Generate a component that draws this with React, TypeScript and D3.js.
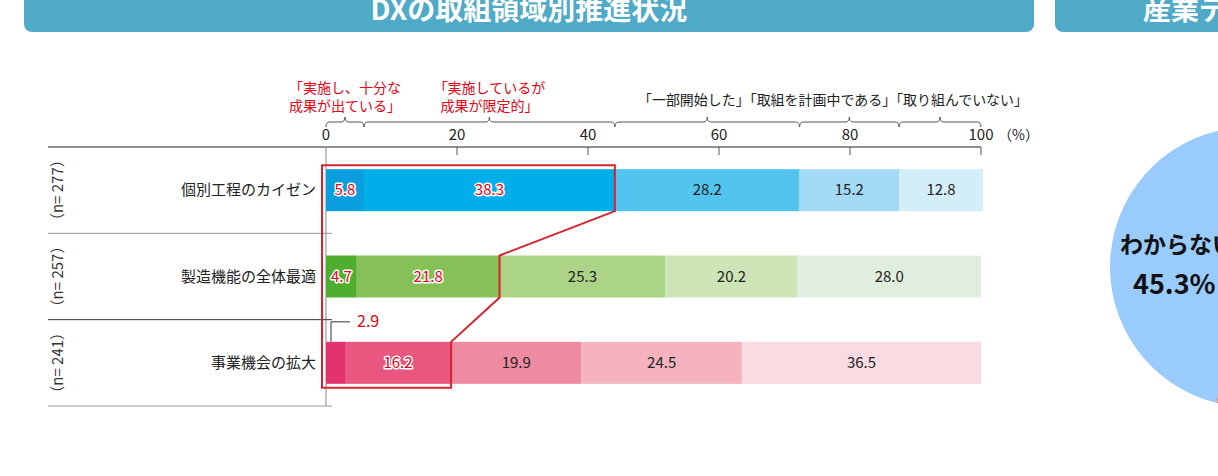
import React from 'react';
import * as d3 from 'd3';

// data
const categories = ['個別工程のカイゼン', '製造機能の全体最適', '事業機会の拡大'];
const sampleSizes = [277, 257, 241];
const statusKeys = ['十分な成果', '限定的', '一部開始', '計画中', '未着手'];
const kaizenValues = [5.8, 38.3, 28.2, 15.2, 12.8];
const optimizationValues = [4.7, 21.8, 25.3, 20.2, 28.0];
const expansionValues = [2.9, 16.2, 19.9, 24.5, 36.5];
const xTicks = [0, 20, 40, 60, 80, 100];
const pieLabels = ['わからない', 'その他'];
const pieValues = [45.3, 54.7];

const rowColors = [
  ['#0a9edf', '#00aeea', '#52c4ef', '#a3daf5', '#d3edf9'],
  ['#4fae2f', '#85c156', '#acd486', '#cde4b6', '#e0eedd'],
  ['#e3336f', '#e9567f', '#ee8ba1', '#f4b3bf', '#fadbe1'],
];

const RED = '#e60012';
const FONT = '"Noto Sans CJK JP", "Noto Sans", sans-serif';

const W = 1218;
const H = 476;

const App: React.FC = () => {
  const x = d3.scaleLinear().domain([0, 100]).range([326, 981]);
  const y = d3.scaleBand<string>().domain(categories).range([147, 406]);
  const barH = 42;

  const rows = [kaizenValues, optimizationValues, expansionValues];
  const table = categories.map((c, i) => {
    const o: any = { cat: c };
    statusKeys.forEach((k, j) => (o[k] = rows[i][j]));
    return o;
  });
  const stacked = d3.stack<any>().keys(statusKeys)(table);

  const segs = categories.map((c, i) =>
    stacked.map((s, j) => ({ cat: c, row: i, col: j, x0: s[i][0], x1: s[i][1], v: rows[i][j] }))
  );

  const barTop = (c: string) => (y(c) as number) + (y.bandwidth() - barH) / 2;

  // red outline around the first two segments of every row
  const pad = 4;
  const ends = segs.map((r) => r[1].x1);
  const outline: [number, number][] = [];
  outline.push([x(0) - pad, barTop(categories[0]) - pad]);
  categories.forEach((c, i) => {
    outline.push([x(ends[i]), i === 0 ? barTop(c) - pad : barTop(c)]);
    outline.push([x(ends[i]), barTop(c) + barH + (i === categories.length - 1 ? pad : 0)]);
  });
  outline.push([x(0) - pad, barTop(categories[2]) + barH + pad]);
  const outlinePath = d3.line()(outline) + 'Z';

  // braces over the first row's segments
  const braceY = 122;
  const brace = (a: number, b: number) => {
    const m = (a + b) / 2;
    const r = 4;
    return `M${a},${braceY + 5} Q${a},${braceY} ${a + r},${braceY} L${m - r},${braceY} Q${m},${braceY} ${m},${braceY - 5} Q${m},${braceY} ${m + r},${braceY} L${b - r},${braceY} Q${b},${braceY} ${b},${braceY + 5}`;
  };

  // pie on the right (mostly off-page)
  const pie = d3
    .pie<number>()
    .sort(null)
    .startAngle((194 * Math.PI) / 180)
    .endAngle((194 * Math.PI) / 180 + 2 * Math.PI)(pieValues);
  const arc = d3.arc<d3.PieArcDatum<number>>().innerRadius(0).outerRadius(140);
  const pieColors = ['#99cbfc', '#f08a8a'];

  const redLabel = {
    fill: RED,
    stroke: '#fff',
    strokeWidth: 3,
    paintOrder: 'stroke' as const,
    strokeLinejoin: 'round' as const,
  };

  return (
    <svg
      width={W}
      height={H}
      style={{ position: 'absolute', left: 0, top: 0, background: '#fff' }}
      fontFamily={FONT}
    >
      {/* header bars */}
      <rect x={24} y={-12} width={1010} height={44} rx={8} fill="#4eaac7" />
      <text x={529} y={20} textAnchor="middle" fontSize={28} fontWeight="bold" fill="#fff">
        DXの取組領域別推進状況
      </text>
      <rect x={1055} y={-12} width={220} height={44} rx={8} fill="#4eaac7" />
      <text x={1143} y={20} fontSize={28} fontWeight="bold" fill="#fff">
        産業データ
      </text>

      {/* pie */}
      <g transform="translate(1250,267)">
        {pie.map((p, i) => (
          <path key={i} d={arc(p) as string} fill={pieColors[i]} />
        ))}
      </g>
      <text x={1120} y={253} fontSize={23} fontWeight="bold" fill="#111">
        {pieLabels[0]}
      </text>
      <text x={1133} y={294} fontSize={27} fontWeight="bold" fill="#111">
        {pieValues[0].toFixed(1)}%
      </text>

      {/* legend labels with braces */}
      {segs[0].map((s, j) => (
        <path key={j} d={brace(x(s.x0), x(Math.min(s.x1, 100)))} fill="none" stroke="#555" strokeWidth={1} />
      ))}
      <g fontSize={14} fill={RED} textAnchor="middle">
        <text x={x((segs[0][0].x0 + segs[0][0].x1) / 2)} y={93}>「実施し、十分な</text>
        <text x={x((segs[0][0].x0 + segs[0][0].x1) / 2)} y={111}>成果が出ている」</text>
        <text x={x((segs[0][1].x0 + segs[0][1].x1) / 2)} y={93}>「実施しているが</text>
        <text x={x((segs[0][1].x0 + segs[0][1].x1) / 2)} y={111}>成果が限定的」</text>
      </g>
      <text x={638} y={105} fontSize={14} fill="#222" textLength={390} lengthAdjust="spacingAndGlyphs">
        「一部開始した」「取組を計画中である」「取り組んでいない」
      </text>

      {/* axis */}
      <line x1={48} x2={x(100)} y1={147} y2={147} stroke="#222" strokeWidth={1} />
      {xTicks.map((t) => (
        <g key={t}>
          {t > 0 && <line x1={x(t)} x2={x(t)} y1={147} y2={155} stroke="#555" />}
          <text x={x(t)} y={140} textAnchor="middle" fontSize={15} fill="#222">
            {t}
          </text>
        </g>
      ))}
      <text x={x(100) + 17} y={140} fontSize={14} fill="#222">（%）</text>
      <line x1={x(0)} x2={x(0)} y1={147} y2={406} stroke="#888" />

      {/* row separators */}
      {categories.map((c, i) => (
        <line
          key={c}
          x1={48}
          x2={332}
          y1={(y(c) as number) + y.bandwidth()}
          y2={(y(c) as number) + y.bandwidth()}
          stroke={i === 1 ? '#333' : '#999'}
        />
      ))}

      {/* bars */}
      {segs.map((r, i) => (
        <g key={i}>
          {r.map((s) => (
            <rect
              key={s.col}
              x={x(s.x0)}
              y={barTop(s.cat)}
              width={x(s.x1) - x(s.x0)}
              height={barH}
              fill={rowColors[i][s.col]}
            />
          ))}
        </g>
      ))}

      {/* outline */}
      <path d={outlinePath} fill="none" stroke="#d9232e" strokeWidth={2} strokeLinejoin="miter" />

      {/* segment labels */}
      {segs.map((r, i) =>
        r.map((s) => {
          if (i === 2 && s.col === 0) return null;
          const cx = x((s.x0 + s.x1) / 2);
          const cy = barTop(s.cat) + barH / 2 + 5;
          return (
            <text
              key={`${i}-${s.col}`}
              x={cx}
              y={cy}
              textAnchor="middle"
              fontSize={15}
              {...(s.col < 2 ? redLabel : { fill: '#222' })}
            >
              {s.v.toFixed(1)}
            </text>
          );
        })
      )}
      {/* outside label for the small slice */}
      <path
        d={`M${x(0) + 5},${barTop(categories[2])} V${barTop(categories[2]) - 20} H${x(0) + 24}`}
        fill="none"
        stroke="#333"
      />
      <text x={x(0) + 31} y={barTop(categories[2]) - 15} fontSize={16} fill={RED}>
        {segs[2][0].v.toFixed(1)}
      </text>

      {/* category labels */}
      {categories.map((c, i) => (
        <g key={c}>
          <text
            x={316}
            y={(y(c) as number) + y.bandwidth() / 2 + 5}
            textAnchor="end"
            fontSize={15}
            fill="#222"
          >
            {c}
          </text>
          <text
            transform={`translate(63,${(y(c) as number) + y.bandwidth() / 2}) rotate(-90)`}
            textAnchor="middle"
            fontSize={15}
            fill="#333"
          >
            {`（n= ${sampleSizes[i]}）`}
          </text>
        </g>
      ))}
    </svg>
  );
};

export default App;
